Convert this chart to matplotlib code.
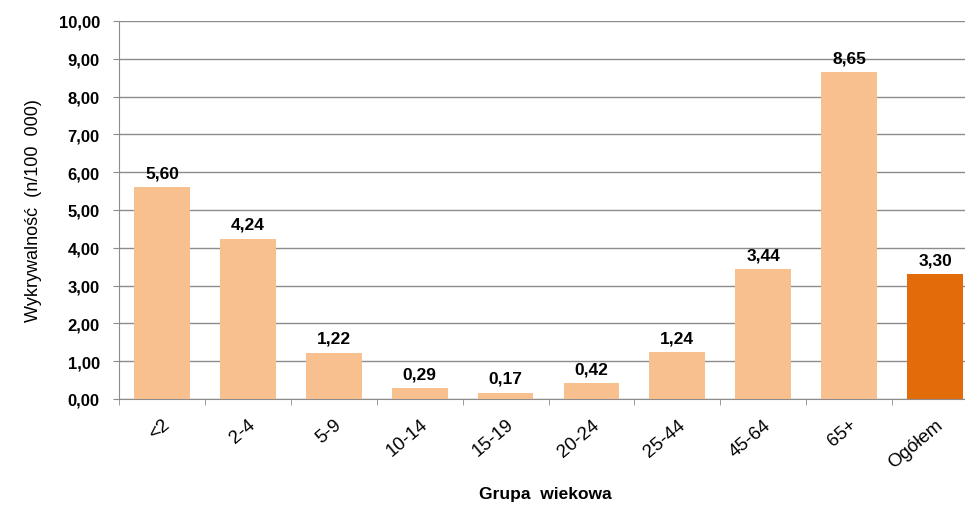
import matplotlib.pyplot as plt
import numpy as np

plt.rcParams['font.family'] = ['Liberation Sans', 'DejaVu Sans']

categories = ['<2', '2-4', '5-9', '10-14', '15-19', '20-24', '25-44', '45-64', '65+', 'Ogółem']
values = [5.60, 4.24, 1.22, 0.29, 0.17, 0.42, 1.24, 3.44, 8.65, 3.30]
yticks = [0, 1, 2, 3, 4, 5, 6, 7, 8, 9, 10]

LIGHT = '#F7C08E'
DARK = '#E36C0A'
colors = [LIGHT] * (len(values) - 1) + [DARK]


def fmt(v):
    return f'{v:.2f}'.replace('.', ',')


fig = plt.figure(figsize=(9.65, 5.06), dpi=100)
ax = fig.add_axes([119/965, 1 - 400/506, (978 - 119)/965, (400 - 22)/506])

x = np.arange(len(categories))
ax.bar(x, values, width=0.65, color=colors, zorder=3)

for xi, v in zip(x, values):
    ax.annotate(fmt(v), (xi, v), xytext=(0, 5), textcoords='offset points',
                ha='center', va='bottom', fontsize=12.5, fontweight='bold', zorder=4)

ax.set_xlim(-0.5, len(categories) - 0.5)
ax.set_ylim(0, 10)
ax.set_yticks(yticks)
ax.set_yticklabels([fmt(t) for t in yticks], fontsize=12, fontweight='bold')
ax.yaxis.grid(True, color='#8c8c8c', linewidth=1, zorder=0)

ax.set_xticks(x)
ax.set_xticklabels(categories, rotation=40, ha='right', rotation_mode='anchor',
                   fontsize=13.5, fontweight='medium')
ax.tick_params(axis='x', which='major', length=0, pad=12)
ax.set_xticks(np.arange(len(categories)) - 0.5, minor=True)
ax.tick_params(axis='x', which='minor', length=4.3, color='#8c8c8c', direction='out')
ax.tick_params(axis='y', length=4.3, color='#8c8c8c', pad=9.5)

for s in ['top', 'right']:
    ax.spines[s].set_visible(False)
for s in ['left', 'bottom']:
    ax.spines[s].set_color('#8c8c8c')

ax.set_ylabel('Wykrywalność  (n/100  000)', fontsize=13, labelpad=12)
fig.text(545/965, 1 - 495/506, 'Grupa  wiekowa', ha='center', va='center',
         fontsize=12.5, fontweight='bold')

fig.savefig('out.png', dpi=100)
